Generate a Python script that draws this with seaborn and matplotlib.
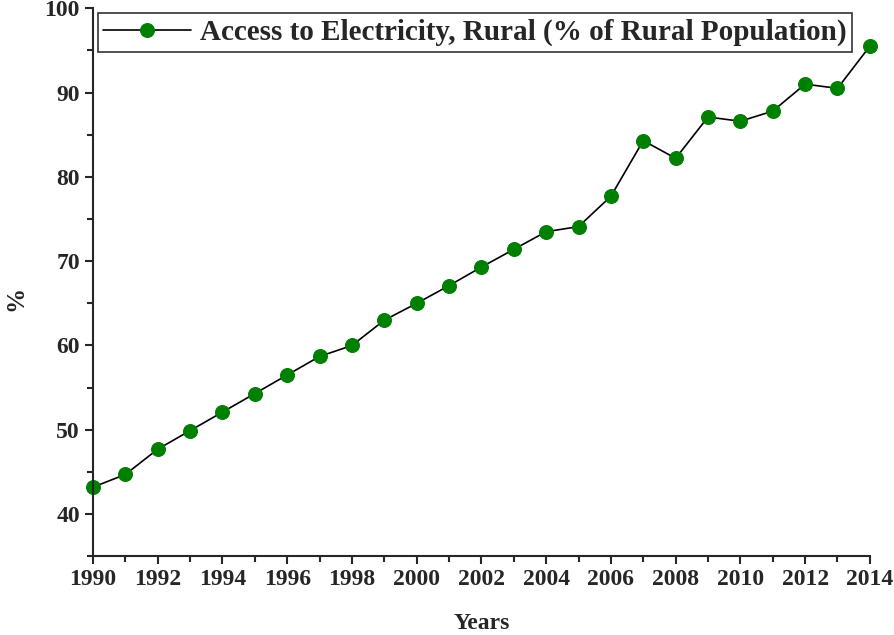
import matplotlib
matplotlib.use("Agg")
import matplotlib.pyplot as plt
import pandas as pd
import seaborn as sns

# rural electricity access
years = list(range(1990, 2015))
access = [43.2, 44.7, 47.7, 49.9, 52.1, 54.3, 56.5, 58.7, 60.0, 63.0,
          65.0, 67.1, 69.3, 71.4, 73.5, 74.1, 77.7, 84.3, 82.2, 87.1,
          86.6, 87.8, 91.0, 90.5, 95.5]
label = "Access to Electricity, Rural (% of Rural Population)"

df = pd.DataFrame({"Years": years, "value": access})

sns.set_style("ticks")
plt.rcParams["font.family"] = ["Liberation Serif", "DejaVu Serif"]
plt.rcParams["font.weight"] = "bold"

fig = plt.figure(figsize=(8.94, 6.35), dpi=100)
ax = fig.add_axes([0.104, 0.124, 0.869, 0.863])

sns.lineplot(data=df, x="Years", y="value", ax=ax, color="black", lw=1.2,
             marker="o", markersize=10, markerfacecolor="#008000",
             markeredgecolor="#008000", label=label, clip_on=False)

ax.set_xlim(1990, 2014)
ax.set_ylim(35, 100)
ax.set_xticks(range(1990, 2015, 2))
ax.set_xticks(range(1991, 2014, 2), minor=True)
ax.set_yticks(range(40, 101, 10))
ax.set_yticks(range(35, 100, 10), minor=True)
ax.tick_params(axis="both", which="major", length=6, width=1.5, labelsize=17, direction="out")
ax.tick_params(axis="both", which="minor", length=4, width=1.5, direction="out")
for t in ax.get_xticklabels() + ax.get_yticklabels():
    t.set_fontweight("bold")

sns.despine(ax=ax)
ax.spines["left"].set_linewidth(1.5)
ax.spines["bottom"].set_linewidth(1.5)

ax.set_xlabel("Years", fontsize=17, fontweight="bold", labelpad=16)
ax.set_ylabel("%", fontsize=18, fontweight="bold")
ax.yaxis.set_label_coords(-0.085, 0.47)

leg = ax.legend(loc="upper left", bbox_to_anchor=(0.006, 0.991), fontsize=21,
                frameon=True, fancybox=False, handlelength=3.0,
                borderpad=0.2, handletextpad=0.3, borderaxespad=0)
leg.get_frame().set_edgecolor("black")
leg.get_frame().set_linewidth(1.2)
for t in leg.get_texts():
    t.set_fontweight("bold")

fig.savefig("out.png", dpi=100)
